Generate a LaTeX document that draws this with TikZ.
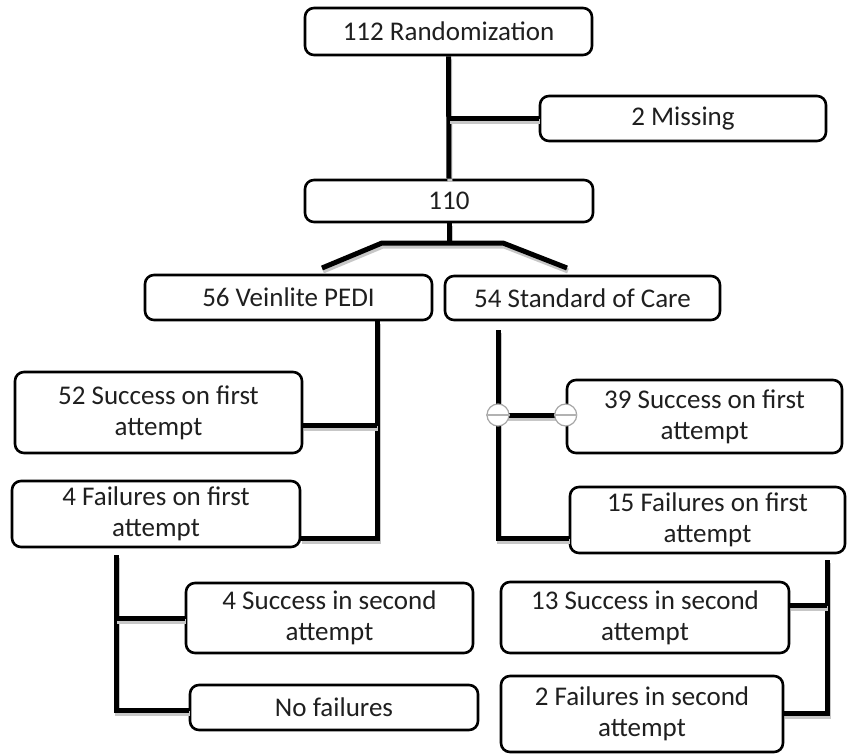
\documentclass[tikz,border=0pt]{standalone}
\usepackage{fontspec}
\setmainfont{Carlito}
\begin{document}
\begin{tikzpicture}[x=1pt,y=-1pt,
  box/.style={draw=black, line width=2.6pt, rounded corners=9pt, fill=white, align=center, inner sep=0pt, font=\fontsize{27}{31}\selectfont, text=black!88},
  conn/.style={line width=5pt, black, preaction={draw=black!22, line width=5pt, transform canvas={shift={(1pt,-3pt)}}}},
  handle/.style={circle, draw=gray!70, fill=white, line width=1.2pt, minimum size=22pt, inner sep=0pt}
]
\useasboundingbox (0,0) rectangle (847,755);

% boxes
\node[box, minimum width=287pt, minimum height=47pt] (rand) at (448.5,31.5) {112 Randomization};
\node[box, minimum width=286pt, minimum height=45pt] (miss) at (683,118.5) {2 Missing};
\node[box, minimum width=288pt, minimum height=42pt] (n110) at (449,201) {110};
\node[box, minimum width=287pt, minimum height=45pt] (vein) at (288.5,297.5) {56 Veinlite PEDI};
\node[box, minimum width=275pt, minimum height=44pt] (soc) at (582.5,298) {54 Standard of Care};
\node[box, minimum width=287pt, minimum height=81pt] (s52) at (158.5,412.5) {52 Success on first\\attempt};
\node[box, minimum width=288pt, minimum height=66pt] (f4) at (156,514) {4 Failures on first\\attempt};
\node[box, minimum width=275pt, minimum height=73pt] (s39) at (704.5,416.5) {39 Success on first\\attempt};
\node[box, minimum width=275pt, minimum height=66pt] (f15) at (707.5,520) {15 Failures on first\\attempt};
\node[box, minimum width=287pt, minimum height=70pt] (s4) at (329.5,618) {4 Success in second\\attempt};
\node[box, minimum width=288pt, minimum height=45pt] (nof) at (334,707.5) {No failures};
\node[box, minimum width=288pt, minimum height=71pt] (s13) at (645,617.5) {13 Success in second\\attempt};
\node[box, minimum width=282pt, minimum height=76pt] (f2) at (642,714) {2 Failures in second\\attempt};

% junction coordinates
\coordinate (sp) at (449,243);
\coordinate (spl) at (382,243);
\coordinate (spr) at (503,243);
\coordinate (vl) at (322,268);
\coordinate (vr) at (567,268);
\coordinate (va) at (377,425);
\coordinate (vb) at (377,538);
\coordinate (rt) at (498,330);
\coordinate (ra) at (498,415);
\coordinate (rb) at (498,538);
\coordinate (lt) at (116,555);
\coordinate (la) at (116,618);
\coordinate (lb) at (116,710);
\coordinate (qt) at (827,560);
\coordinate (qa) at (827,605);
\coordinate (qb) at (827,713);

% connectors
\draw[conn] (rand.south) -- (n110.north);
\draw[conn] (rand.south |- miss.west) -- (miss.west);
\draw[conn] (n110.south) -- (sp);
\draw[conn] (vl) -- (spl) -- (spr) -- (vr);
\draw[conn] (vein.south -| va) -- (vb) -- (f4.east |- vb);
\draw[conn] (s52.east |- va) -- (va);
\draw[conn] (rt) -- (rb) -- (f15.west |- rb);
\draw[conn] (ra) -- (s39.west |- ra);
\draw[conn] (lt) -- (lb) -- (nof.west |- lb);
\draw[conn] (la) -- (s4.west |- la);
\draw[conn] (qt) -- (qb) -- (f2.east |- qb);
\draw[conn] (qa) -- (s13.east |- qa);

% selection handles
\node[handle] (h1) at (ra) {};
\node[handle] (h2) at (s39.west |- ra) {};
\draw[gray!60, line width=2pt] (h1.west) -- (h1.east);
\draw[gray!60, line width=2pt] (h2.west) -- (h2.east);
\end{tikzpicture}
\end{document}
